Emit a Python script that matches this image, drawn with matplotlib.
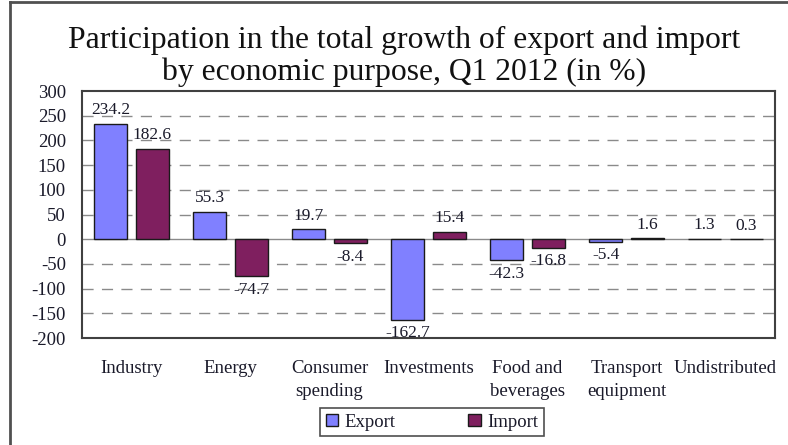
import numpy as np
import matplotlib
matplotlib.use("Agg")
import matplotlib.pyplot as plt
from matplotlib.lines import Line2D

# data
categories = ["Industry", "Energy", "Consumer\nspending", "Investments",
              "Food and\nbeverages", "Transport\nequipment", "Undistributed"]
export_vals = [234.2, 55.3, 19.7, -162.7, -42.3, -5.4, 1.3]
import_vals = [182.6, -74.7, -8.4, 15.4, -16.8, 1.6, 0.3]
series_names = ["Export", "Import"]
y_ticks = [-200, -150, -100, -50, 0, 50, 100, 150, 200, 250, 300]

title = "Participation in the total growth of export and import\nby economic purpose, Q1 2012 (in %)"

export_color = "#8080FF"
import_color = "#7F1F5F"
text_color = "#1a1a2a"

plt.rcParams["font.family"] = ["Liberation Serif", "DejaVu Serif"]

fig = plt.figure(figsize=(7.88, 4.45), dpi=100)
ax = fig.add_axes([0.104, 0.2404, 0.8795, 0.5551])

x = np.arange(len(categories))
w = 0.33
off = 0.21
b1 = ax.bar(x - off, export_vals, w, color=export_color, edgecolor="#1a1a1a",
            linewidth=1.0, label=series_names[0], zorder=3)
b2 = ax.bar(x + off, import_vals, w, color=import_color, edgecolor="#1a1a1a",
            linewidth=1.0, label=series_names[1], zorder=3)

# value labels outside bar ends
for bars, vals in [(b1, export_vals), (b2, import_vals)]:
    for rect, v in zip(bars, vals):
        cx = rect.get_x() + rect.get_width() / 2
        if v >= 0:
            ax.annotate(f"{v:.1f}", (cx, v), xytext=(0, 4), textcoords="offset points",
                        ha="center", va="bottom", fontsize=12.5, color=text_color)
        else:
            ax.annotate(f"{v:.1f}", (cx, v), xytext=(0, -4), textcoords="offset points",
                        ha="center", va="top", fontsize=12.5, color=text_color)

ax.set_ylim(-200, 300)
ax.set_xlim(-0.5, len(categories) - 0.5)
ax.set_yticks(y_ticks)
ax.set_yticklabels([str(t) for t in y_ticks], fontsize=13.5, color=text_color)
ax.set_xticks(x)
ax.set_xticklabels(categories, fontsize=13.5, color=text_color, linespacing=1.45)
ax.tick_params(axis="both", length=0)
ax.tick_params(axis="x", pad=16)
ax.tick_params(axis="y", pad=11.5)

for t in y_ticks:
    if t in (-200, 300):
        continue
    if t == 0:
        ax.axhline(0, color="#8a8a8a", linewidth=1.0, zorder=2)
    else:
        ax.axhline(t, color="#8a8a8a", linewidth=1.0, linestyle=(0, (8, 6)), zorder=1)

for s in ax.spines.values():
    s.set_color("#404040")
    s.set_linewidth(1.5)

fig.text(0.513, 0.942, title, ha="center", va="top", fontsize=22.8,
         color="#111111", linespacing=1.08)

leg = fig.legend(handles=[b1, b2], loc="center", bbox_to_anchor=(0.548, 0.051),
                 ncol=2, fontsize=13.5, frameon=True, fancybox=False,
                 handlelength=0.65, handleheight=0.65, columnspacing=3.9,
                 handletextpad=0.35, borderpad=0.3, borderaxespad=0)
leg.get_frame().set_edgecolor("#222222")
leg.get_frame().set_linewidth(1.2)
for txt in leg.get_texts():
    txt.set_color(text_color)

# outer frame of the original picture (top and left edges)
fig.add_artist(Line2D([0.0127, 0.0127], [0, 0.995], transform=fig.transFigure,
                      color="#505050", linewidth=2))
fig.add_artist(Line2D([0.0127, 1.0], [0.995, 0.995], transform=fig.transFigure,
                      color="#505050", linewidth=2))

fig.savefig("out.png", dpi=100)
